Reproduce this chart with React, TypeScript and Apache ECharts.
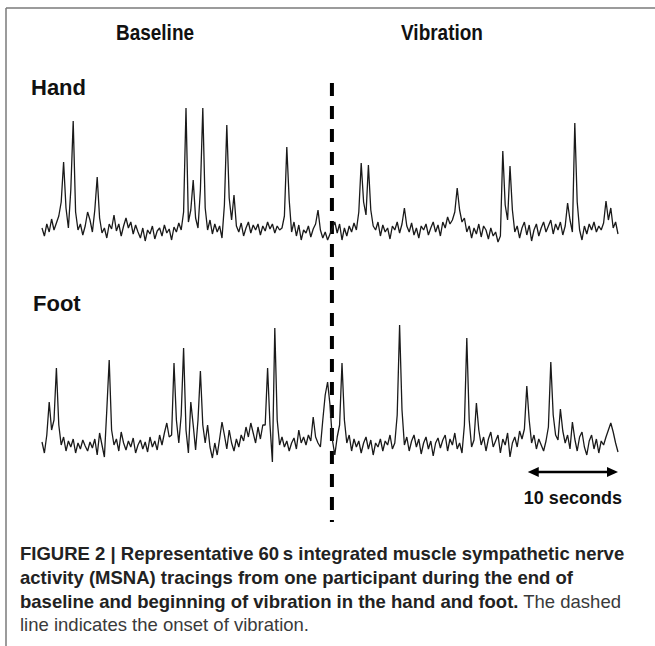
import React, { useEffect, useRef } from "react";
import * as echarts from "echarts";

// MSNA traces, sampled every 0.25 s over 60 s (arbitrary amplitude units)
const sampleStep = 0.25;
const onsetTime = 30.2; // onset of vibration (s)
const scaleBar = [50.6, 60]; // "10 seconds" arrow, in trace time
const panelTitles = ["Baseline", "Vibration"];
const traceNames = ["Hand", "Foot"];
const scaleLabel = "10 seconds";

const handValues = [
  22, 14, 26, 18, 31, 20, 27, 34, 48, 88,
  42, 22, 60, 129, 38, 20, 26, 15, 24, 38,
  30, 18, 40, 73, 32, 17, 22, 12, 26, 21,
  35, 19, 26, 14, 24, 32, 22, 28, 16, 25,
  18, 12, 22, 9, 20, 16, 24, 11, 19, 22,
  14, 25, 17, 21, 10, 23, 18, 27, 20, 38,
  142, 28, 40, 70, 32, 22, 60, 142, 42, 20,
  30, 16, 26, 18, 24, 12, 45, 125, 52, 30,
  55, 24, 18, 27, 14, 22, 28, 17, 25, 20,
  26, 15, 24, 19, 28, 21, 26, 17, 24, 20,
  22, 34, 103, 50, 18, 28, 14, 25, 10, 20,
  17, 24, 13, 21, 26, 40, 20, 12, 18, 10,
  16, 22, 28, 17, 26, 10, 22, 14, 24, 18,
  27, 20, 38, 87, 48, 35, 85, 40, 24, 20,
  28, 14, 25, 18, 22, 11, 24, 20, 28, 17,
  26, 42, 24, 18, 27, 15, 22, 12, 24, 20,
  26, 15, 22, 28, 18, 25, 14, 28, 22, 33,
  26, 30, 38, 62, 40, 28, 32, 18, 24, 12,
  22, 16, 26, 13, 24, 20, 11, 22, 14, 18,
  8, 14, 99, 45, 30, 84, 40, 18, 24, 12,
  22, 28, 15, 25, 9, 20, 26, 14, 22, 28,
  18, 24, 30, 16, 26, 20, 28, 15, 24, 47,
  30, 18, 127, 48, 20, 10, 24, 16, 26, 20,
  28, 18, 24, 20, 27, 49, 30, 42, 22, 28,
  16,
];

const footValues = [
  23, 12, 30, 63, 35, 45, 97, 40, 20, 28,
  14, 24, 18, 26, 12, 22, 16, 25, 19, 14,
  23, 17, 26, 10, 32, 20, 8, 55, 105, 35,
  20, 26, 14, 33, 22, 15, 24, 18, 27, 12,
  20, 25, 16, 23, 13, 28, 18, 24, 15, 30,
  20, 32, 42, 28, 30, 102, 45, 22, 50, 117,
  35, 12, 63, 40, 15, 45, 94, 40, 22, 40,
  18, 7, 22, 10, 26, 43, 30, 16, 35, 22,
  14, 26, 18, 30, 24, 38, 28, 42, 32, 22,
  38, 26, 40, 40, 97, 40, 3, 137, 45, 20,
  28, 18, 24, 14, 22, 27, 16, 35, 22, 28,
  20, 30, 24, 48, 28, 22, 18, 45, 70, 83,
  60, 25, 10, 28, 40, 102, 45, 22, 30, 14,
  26, 18, 24, 12, 22, 28, 16, 25, 10, 22,
  18, 26, 14, 24, 20, 30, 16, 22, 50, 140,
  55, 20, 28, 14, 24, 30, 18, 26, 11, 22,
  28, 16, 24, 9, 22, 27, 17, 25, 30, 14,
  26, 20, 32, 16, 22, 12, 40, 127, 45, 18,
  25, 62, 35, 20, 28, 14, 26, 33, 18, 24,
  30, 12, 26, 20, 32, 8, 22, 28, 18, 34,
  26, 36, 79, 45, 22, 30, 16, 26, 20, 14,
  24, 38, 103, 50, 30, 25, 56, 34, 22, 30,
  16, 43, 26, 14, 28, 33, 18, 10, 24, 30,
  16, 26, 12, 24, 20, 28, 35, 42, 33, 22,
  13,
];

const captionLines = [
  "FIGURE 2 | Representative 60\u2009s integrated muscle sympathetic nerve",
  "activity (MSNA) tracings from one participant during the end of",
];
const captionLine3Bold = "baseline and beginning of vibration in the hand and foot.";
const captionLine3Regular = " The dashed";
const captionLine4 = "line indicates the onset of vibration.";

const FONT = '"Liberation Sans", Arial, Helvetica, sans-serif';

export default function App() {
  const ref = useRef<HTMLDivElement>(null);

  useEffect(() => {
    if (!ref.current) return;
    const chart = echarts.init(ref.current, undefined, { renderer: "svg" });

    const toPairs = (vals: number[]) => vals.map((v, i) => [i * sampleStep, v]);

    const axisCommon = { type: "value" as const, min: 0, max: 60, show: false };
    const yCommon = { type: "value" as const, min: 0, max: 150, show: false };

    chart.setOption({
      animation: false,
      backgroundColor: "#ffffff",
      grid: [
        { left: 42, width: 576, top: 100, height: 150 },
        { left: 42, width: 576, top: 315, height: 150 },
      ],
      xAxis: [
        { ...axisCommon, gridIndex: 0 },
        { ...axisCommon, gridIndex: 1 },
      ],
      yAxis: [
        { ...yCommon, gridIndex: 0 },
        { ...yCommon, gridIndex: 1 },
      ],
      series: [
        {
          name: traceNames[0],
          type: "line",
          xAxisIndex: 0,
          yAxisIndex: 0,
          showSymbol: false,
          data: toPairs(handValues),
          lineStyle: { color: "#1a1a1a", width: 1.3 },
        },
        {
          name: traceNames[1],
          type: "line",
          xAxisIndex: 1,
          yAxisIndex: 1,
          showSymbol: false,
          data: toPairs(footValues),
          lineStyle: { color: "#1a1a1a", width: 1.3 },
        },
      ],
    });

    const xOnset = chart.convertToPixel({ xAxisIndex: 0 }, onsetTime) as number;
    const xa = chart.convertToPixel({ xAxisIndex: 1 }, scaleBar[0]) as number;
    const xb = chart.convertToPixel({ xAxisIndex: 1 }, scaleBar[1]) as number;
    const arrowY = 472;

    const bold = (size: number) => `bold ${size}px ${FONT}`;
    const capBold = bold(18.5);
    const capReg = `18.5px ${FONT}`;

    chart.setOption({
      graphic: [
        // frame
        { type: "line", shape: { x1: 6, y1: 8, x2: 655, y2: 8 }, style: { stroke: "#7a7a7a", lineWidth: 1.5 } },
        { type: "line", shape: { x1: 6, y1: 8, x2: 6, y2: 646 }, style: { stroke: "#7a7a7a", lineWidth: 1.5 } },
        // panel titles
        {
          type: "text", x: 155, y: 33, scaleY: 1.12,
          style: { text: panelTitles[0], font: bold(19), fill: "#111", align: "center", verticalAlign: "middle", textAlign: "center", textVerticalAlign: "middle" },
        },
        {
          type: "text", x: 442, y: 33, scaleY: 1.12,
          style: { text: panelTitles[1], font: bold(19), fill: "#111", align: "center", verticalAlign: "middle", textAlign: "center", textVerticalAlign: "middle" },
        },
        {
          type: "text", x: 31, y: 87,
          style: { text: traceNames[0], font: bold(22), fill: "#111", align: "left", verticalAlign: "middle", textAlign: "left", textVerticalAlign: "middle" },
        },
        {
          type: "text", x: 33, y: 303,
          style: { text: traceNames[1], font: bold(22), fill: "#111", align: "left", verticalAlign: "middle", textAlign: "left", textVerticalAlign: "middle" },
        },
        // onset dashed line
        {
          type: "line",
          shape: { x1: xOnset, y1: 83, x2: xOnset, y2: 522 },
          style: { stroke: "#000", lineWidth: 4, lineDash: [13, 10] },
        },
        // scale arrow
        {
          type: "line",
          shape: { x1: xa + 6, y1: arrowY, x2: xb - 6, y2: arrowY },
          style: { stroke: "#000", lineWidth: 2.5 },
        },
        {
          type: "polygon",
          shape: { points: [[xa, arrowY], [xa + 11, arrowY - 5], [xa + 11, arrowY + 5]] },
          style: { fill: "#000" },
        },
        {
          type: "polygon",
          shape: { points: [[xb, arrowY], [xb - 11, arrowY - 5], [xb - 11, arrowY + 5]] },
          style: { fill: "#000" },
        },
        {
          type: "text", x: (xa + xb) / 2, y: 498,
          style: { text: scaleLabel, font: bold(18), fill: "#111", align: "center", verticalAlign: "middle", textAlign: "center", textVerticalAlign: "middle" },
        },
        // caption
        {
          type: "text", x: 20, y: 553,
          style: { text: captionLines[0], font: capBold, fill: "#222", align: "left", verticalAlign: "middle", textAlign: "left", textVerticalAlign: "middle" },
        },
        {
          type: "text", x: 20, y: 577,
          style: { text: captionLines[1], font: capBold, fill: "#222", align: "left", verticalAlign: "middle", textAlign: "left", textVerticalAlign: "middle" },
        },
        {
          type: "text", x: 20, y: 601,
          style: {
            text: `{b|${captionLine3Bold}}{r|${captionLine3Regular}}`,
            align: "left", verticalAlign: "middle", textAlign: "left", textVerticalAlign: "middle",
            rich: {
              b: { font: capBold, fill: "#222", color: "#222" },
              r: { font: capReg, fill: "#3a3a3a", color: "#3a3a3a" },
            },
          },
        },
        {
          type: "text", x: 20, y: 624,
          style: { text: captionLine4, font: capReg, fill: "#3a3a3a", align: "left", verticalAlign: "middle", textAlign: "left", textVerticalAlign: "middle" },
        },
      ],
    });

    return () => chart.dispose();
  }, []);

  return (
    <div
      ref={ref}
      style={{ position: "fixed", left: 0, top: 0, width: 655, height: 646, background: "#fff" }}
    />
  );
}
